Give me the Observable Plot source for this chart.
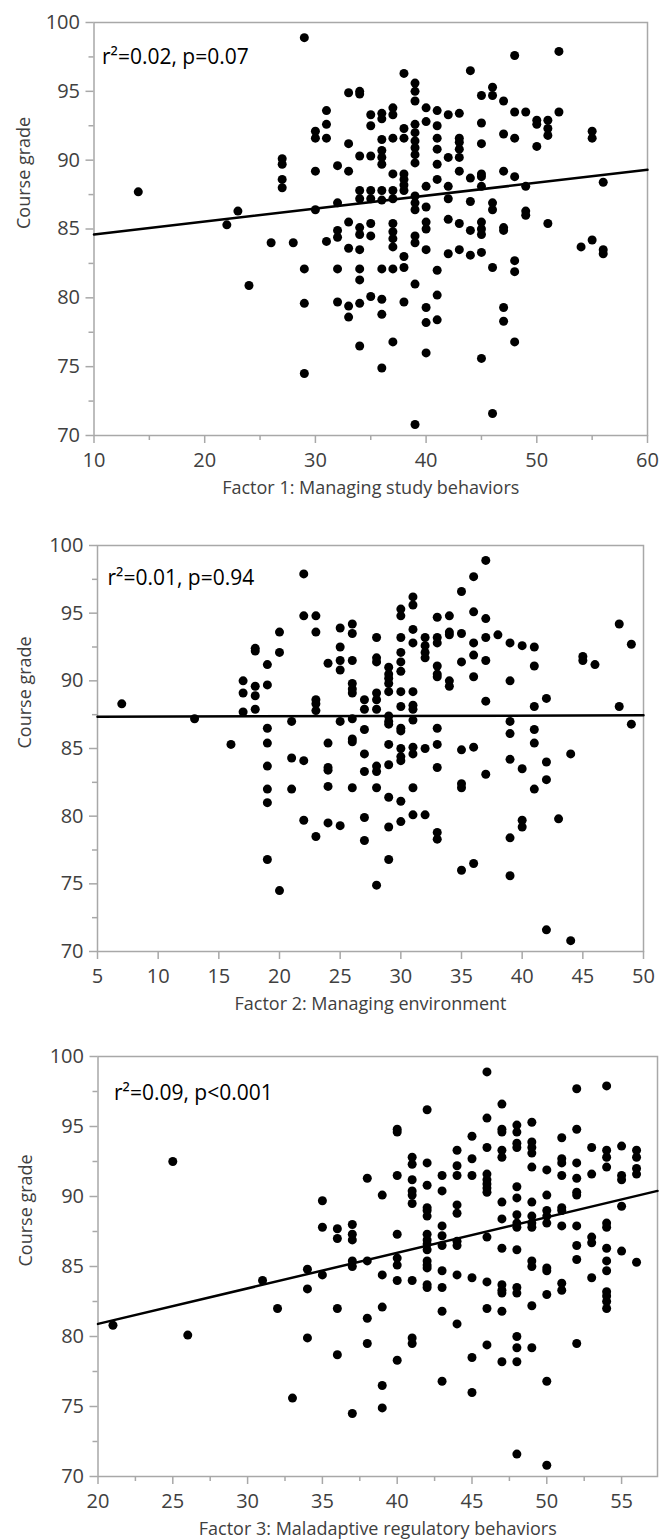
<!DOCTYPE html>
<html><head><meta charset="utf-8">
<script src="https://cdn.jsdelivr.net/npm/d3@7"></script>
<script src="https://cdn.jsdelivr.net/npm/@observablehq/plot@0.6"></script>
<style>
body{margin:0;background:#fff}
#wrap{position:relative;width:659px;height:1540px;overflow:hidden}
#wrap svg{position:absolute;left:0}
</style>
</head><body><div id="wrap"></div>
<script>
// ---------- data ----------
const yMajorTicks = [70, 75, 80, 85, 90, 95, 100];
const yMinorTicks = [72.5, 77.5, 82.5, 87.5, 92.5, 97.5];
const yTitle = "Course grade";

// Panel 1: Factor 1
const f1Title = "Factor 1: Managing study behaviors";
const f1Note = "r²=0.02, p=0.07";
const f1MajorTicks = [10, 20, 30, 40, 50, 60];
const f1MinorTicks = [15, 25, 35, 45, 55];
const f1Fit = [[10, 84.6], [60, 89.3]];
const f1Points = [
  [29,98.9],[44,96.5],[48,97.6],[52,97.9],[38,96.3],[39,95.6],[39,95.0],[39,94.3],[33,94.9],[34,95.0],[34,94.8],
  [45,94.7],[46,95.3],[46,94.7],[47,94.3],[40,93.8],[41,93.6],[42,93.3],[43,93.4],[37,93.8],[37,93.3],[35,93.3],
  [35,92.5],[36,93.4],[36,93.0],[31,93.6],[31,92.6],[31,91.6],[30,92.1],[30,91.6],[48,93.5],[48,91.6],[49,93.5],
  [47,91.9],[50,92.9],[50,92.6],[50,91.0],[51,92.9],[51,92.3],[51,91.8],[52,93.5],[55,92.1],[55,91.6],[38,92.3],
  [39,92.6],[39,92.0],[39,91.4],[39,90.9],[39,90.4],[39,89.8],[40,92.8],[41,92.5],[41,91.6],[41,90.8],[41,89.7],
  [43,91.6],[43,91.3],[43,90.8],[43,90.2],[42,90.2],[45,92.7],[45,91.2],[37,91.6],[38,91.6],[36,91.5],[36,90.7],
  [36,90.2],[36,89.7],[33,91.2],[34,90.3],[35,90.3],[27,90.1],[27,89.7],[30,89.2],[32,89.6],[33,89.2],[37,89.0],
  [38,89.0],[38,88.6],[45,89.0],[45,88.8],[44,88.7],[47,89.2],[48,88.8],[27,88.6],[43,89.2],[14,87.7],[27,88.0],
  [38,88.2],[38,87.8],[45,88.1],[49,88.1],[56,88.4],[22,85.3],[23,86.3],[24,80.9],[26,84.0],[28,84.0],[29,82.1],
  [29,79.6],[30,86.4],[31,84.1],[32,86.9],[32,84.9],[32,84.4],[32,82.1],[32,79.7],[33,85.5],[33,83.6],[33,79.4],
  [33,78.6],[34,87.8],[34,87.2],[34,85.1],[34,84.6],[34,83.5],[34,82.1],[34,81.3],[34,79.6],[35,87.8],[35,87.2],
  [35,85.4],[35,84.5],[35,80.1],[36,87.8],[36,87.1],[36,82.1],[36,79.9],[36,78.8],[37,87.8],[37,87.2],[37,85.4],
  [37,84.8],[37,84.3],[37,83.7],[37,82.1],[38,82.2],[38,83.0],[38,79.7],[39,87.4],[39,86.9],[39,86.4],[39,84.5],
  [39,84.0],[39,81.0],[40,88.1],[40,86.6],[40,85.5],[40,85.0],[40,83.5],[40,79.3],[40,78.2],[41,88.6],[41,82.0],
  [41,80.2],[41,78.4],[42,88.1],[42,87.2],[42,85.7],[42,83.2],[43,85.4],[43,83.5],[44,87.0],[44,84.9],[44,83.1],
  [45,85.5],[45,85.0],[45,84.6],[45,83.3],[46,86.9],[46,86.4],[46,82.2],[47,85.1],[47,84.9],[47,79.3],[47,78.3],
  [48,82.7],[48,81.9],[49,86.3],[49,86.0],[51,85.4],[54,83.7],[55,84.2],[56,83.5],[56,83.2],[29,74.5],[34,76.5],
  [36,74.9],[37,76.8],[40,76.0],[45,75.6],[48,76.8],[39,70.8],[46,71.6]
];

// Panel 2: Factor 2
const f2Title = "Factor 2: Managing environment";
const f2Note = "r²=0.01, p=0.94";
const f2MajorTicks = [5, 10, 15, 20, 25, 30, 35, 40, 45, 50];
const f2MinorTicks = [];
const f2Fit = [[5, 87.35], [50, 87.45]];
const f2Points = [
  [22,97.9],[22,94.8],[23,94.8],[23,93.6],[20,93.6],[20,92.1],[18,92.4],[18,92.2],[19,91.2],[37,98.9],[36,97.7],
  [35,96.6],[31,96.2],[31,95.6],[30,95.3],[30,94.8],[33,94.7],[34,94.8],[36,95.1],[37,94.6],[25,93.9],[26,94.2],
  [26,93.5],[28,93.2],[30,93.2],[31,93.8],[31,92.8],[32,93.2],[32,92.6],[32,92.1],[32,91.7],[33,93.2],[33,92.8],
  [34,93.6],[34,93.4],[35,93.5],[36,92.8],[37,93.2],[38,93.4],[39,92.8],[40,92.6],[41,92.5],[48,94.2],[49,92.7],
  [25,92.5],[25,91.5],[26,91.5],[24,91.3],[28,91.7],[28,91.4],[29,91.0],[30,92.1],[30,91.4],[33,91.1],[35,91.4],
  [36,91.9],[37,91.5],[41,91.1],[45,91.8],[45,91.5],[46,91.2],[25,90.8],[29,90.5],[29,90.2],[29,89.8],[30,90.7],
  [33,90.5],[33,90.3],[34,90.0],[34,89.6],[36,90.3],[39,90.0],[7,88.3],[13,87.2],[16,85.3],[17,90.0],[17,89.1],
  [17,87.7],[18,89.6],[18,88.9],[18,87.9],[19,89.7],[19,86.5],[19,85.4],[19,83.7],[19,82.0],[19,81.0],[21,87.0],
  [21,84.3],[21,82.0],[22,84.1],[23,88.6],[23,88.3],[23,87.8],[24,85.4],[24,83.6],[24,83.4],[24,82.2],[25,87.0],
  [26,89.8],[26,89.4],[26,89.1],[26,87.2],[26,85.7],[26,85.5],[26,82.1],[27,88.6],[27,87.9],[27,86.4],[27,84.6],
  [27,83.3],[28,89.1],[28,88.6],[28,87.9],[28,83.7],[28,83.3],[28,82.1],[29,89.2],[29,87.4],[29,87.0],[29,86.8],
  [29,85.3],[29,83.8],[29,81.4],[30,89.2],[30,88.1],[30,86.5],[30,86.3],[30,85.0],[30,84.4],[30,84.1],[30,81.1],
  [31,89.2],[31,88.2],[31,87.9],[31,87.1],[31,85.1],[31,84.6],[31,82.1],[32,85.0],[33,86.5],[33,85.3],[33,83.6],
  [35,84.9],[35,82.4],[35,82.1],[36,85.1],[37,88.5],[37,83.1],[39,87.0],[39,86.1],[39,84.2],[40,83.5],[41,88.1],
  [41,86.4],[41,85.4],[41,82.0],[42,88.7],[42,84.0],[42,82.7],[44,84.6],[48,88.1],[49,86.8],[22,79.7],[23,78.5],
  [24,79.5],[25,79.3],[27,79.9],[27,78.2],[29,79.2],[29,76.8],[30,79.6],[31,80.1],[32,80.1],[33,78.8],[33,78.3],
  [19,76.8],[20,74.5],[28,74.9],[35,76.0],[36,76.5],[39,78.4],[39,75.6],[40,79.7],[40,79.2],[43,79.8],[42,71.6],
  [44,70.8]
];

// Panel 3: Factor 3
const f3Title = "Factor 3: Maladaptive regulatory behaviors";
const f3Note = "r²=0.09, p<0.001";
const f3MajorTicks = [20, 25, 30, 35, 40, 45, 50, 55];
const f3MinorTicks = [22.5, 27.5, 32.5, 37.5, 42.5, 47.5, 52.5];
const f3Fit = [[20, 80.9], [57.4, 90.4]];
const f3Points = [
  [25,92.5],[46,98.9],[52,97.7],[54,97.9],[42,96.2],[47,96.6],[46,95.6],[40,94.8],[40,94.6],[47,94.8],[47,94.6],
  [48,95.1],[48,94.6],[49,95.3],[52,94.8],[45,94.3],[51,94.2],[44,93.3],[46,93.5],[47,93.3],[47,92.8],[48,93.8],
  [48,93.5],[49,93.9],[49,93.5],[49,93.1],[53,93.5],[54,93.3],[54,92.8],[55,93.6],[56,93.3],[56,92.8],[41,92.8],
  [41,92.3],[42,92.4],[45,92.7],[44,92.2],[49,92.1],[50,91.9],[51,92.7],[51,92.4],[52,92.4],[54,92.1],[56,92.0],
  [56,91.6],[38,91.3],[40,91.5],[41,91.2],[43,91.5],[44,91.5],[45,91.5],[46,91.6],[46,91.2],[51,91.5],[52,91.3],
  [53,91.6],[55,91.5],[55,91.2],[42,90.8],[46,90.9],[46,90.6],[46,90.3],[48,90.7],[52,90.3],[52,90.1],[41,90.4],
  [41,90.1],[41,89.5],[43,90.4],[21,80.8],[26,80.1],[31,84.0],[32,82.0],[34,84.8],[34,83.4],[34,79.9],[35,89.7],
  [35,87.8],[35,84.4],[36,87.7],[36,87.0],[36,82.0],[37,88.0],[37,87.3],[37,86.9],[37,85.4],[37,85.0],[38,85.4],
  [38,81.3],[39,90.1],[39,84.4],[39,82.1],[40,87.3],[40,85.6],[40,85.1],[40,84.0],[41,84.0],[41,79.9],[42,89.2],
  [42,89.0],[42,88.6],[42,87.3],[42,86.9],[42,86.6],[42,86.2],[42,85.4],[42,85.1],[42,84.9],[42,83.7],[42,83.5],
  [43,87.9],[43,87.2],[43,86.5],[43,84.7],[43,83.5],[43,81.8],[44,89.4],[44,88.8],[44,86.8],[44,86.5],[44,84.4],
  [44,80.9],[45,84.2],[46,87.1],[46,83.9],[46,82.0],[47,89.6],[47,88.4],[47,86.3],[47,83.7],[47,83.3],[47,83.1],
  [47,81.8],[48,89.9],[48,88.7],[48,88.1],[48,87.8],[48,86.2],[48,83.5],[48,83.1],[48,80.0],[49,89.6],[49,88.6],
  [49,88.1],[49,87.8],[49,85.4],[49,85.0],[49,82.2],[50,90.1],[50,89.0],[50,88.6],[50,88.1],[50,84.9],[50,84.7],
  [50,83.0],[51,89.2],[51,89.0],[51,87.9],[51,83.8],[51,83.3],[52,87.9],[52,86.5],[52,85.5],[53,87.1],[53,86.7],
  [53,84.2],[54,88.1],[54,87.8],[54,86.3],[54,85.4],[54,84.7],[54,83.2],[54,82.9],[54,82.5],[54,82.0],[55,89.3],
  [55,86.1],[56,85.3],[38,79.5],[41,79.5],[36,78.7],[40,78.3],[46,79.4],[47,78.2],[45,78.5],[48,79.2],[48,78.2],
  [49,79.2],[52,79.5],[50,76.8],[43,76.8],[45,76.0],[39,76.5],[39,74.9],[37,74.5],[33,75.6],[48,71.6],[50,70.8]
];

// ---------- drawing ----------
const wrap = document.getElementById("wrap");
const grey = "#a8a8a8", textGrey = "#404040";

function panel(o) {
  const marks = [
    Plot.frame({stroke: grey, strokeWidth: 1.5}),
    Plot.axisX({ticks: o.xMajor, tickSize: 8, tickPadding: 9, stroke: grey, strokeWidth: 1.5, fill: textGrey, label: null}),
    Plot.axisY({ticks: yMajorTicks, tickSize: 8, tickPadding: 6, stroke: grey, strokeWidth: 1.5, fill: textGrey, label: null}),
    Plot.axisY({ticks: yMinorTicks, tickSize: 5, tickFormat: () => "", stroke: grey, strokeWidth: 1.5, label: null}),
    Plot.line(o.fit, {x: d => d[0], y: d => d[1], stroke: "black", strokeWidth: 2.5}),
    Plot.dot(o.pts, {x: d => d[0], y: d => d[1], r: 4.5, fill: "black"}),
    Plot.text([o.note], {frameAnchor: "top-left", dx: o.noteDx, dy: o.noteDy, textAnchor: "start", lineAnchor: "middle", fontSize: 21, fill: "black"}),
    Plot.text([o.xTitle], {frameAnchor: "bottom", dy: 53, lineAnchor: "middle", fontSize: 18, fill: textGrey}),
    Plot.text([yTitle], {frameAnchor: "left", dx: o.yTitleDx, rotate: -90, lineAnchor: "middle", fontSize: 18, fill: textGrey})
  ];
  if (o.xMinor.length) marks.splice(2, 0, Plot.axisX({ticks: o.xMinor, tickSize: 5, tickFormat: () => "", stroke: grey, strokeWidth: 1.5, label: null}));
  const svg = Plot.plot({
    width: 659, height: o.height,
    marginTop: o.mt, marginBottom: o.mb, marginLeft: o.ml, marginRight: o.mr,
    x: {domain: o.xDomain},
    y: {domain: [70, 100]},
    style: {fontFamily: "'Open Sans', sans-serif", fontSize: "20px", color: textGrey, background: "transparent", overflow: "visible"},
    marks
  });
  svg.style.top = o.top + "px";
  wrap.appendChild(svg);
}

panel({pts: f1Points, fit: f1Fit, xDomain: [10, 60], xMajor: f1MajorTicks, xMinor: f1MinorTicks, xTitle: f1Title, note: f1Note,
  noteDx: 8, noteDy: 34.5, top: 0, height: 500, mt: 22, mb: 65, ml: 93.5, mr: 12, yTitleDx: -69.5});
panel({pts: f2Points, fit: f2Fit, xDomain: [5, 50], xMajor: f2MajorTicks, xMinor: f2MinorTicks, xTitle: f2Title, note: f2Note,
  noteDx: 10, noteDy: 32.5, top: 500, height: 515, mt: 45, mb: 64, ml: 97, mr: 16, yTitleDx: -72});
panel({pts: f3Points, fit: f3Fit, xDomain: [20, 57.4], xMajor: f3MajorTicks, xMinor: f3MinorTicks, xTitle: f3Title, note: f3Note,
  noteDx: 16, noteDy: 36.5, top: 1015, height: 525, mt: 41, mb: 64, ml: 97.5, mr: 2, yTitleDx: -72});
</script>
</body></html>
